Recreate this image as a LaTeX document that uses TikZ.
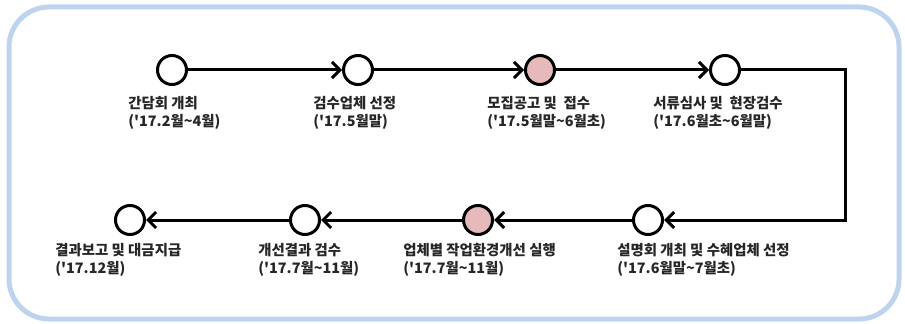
\documentclass[tikz,border=0pt]{standalone}
\usepackage{fontspec}
\setmainfont{Noto Sans CJK KR}
\usetikzlibrary{arrows.meta}
\definecolor{frame}{RGB}{190,212,238}
\definecolor{rose}{RGB}{230,186,186}

\begin{document}
\begin{tikzpicture}[x=0.2mm,y=-0.2mm,
  stage/.style={circle,draw,line width=0.6mm,minimum size=5.8mm,inner sep=0pt,fill=white},
  hot/.style={stage,fill=rose},
  flow/.style={line width=0.6mm,-{Straight Barb[length=1.6mm,width=3.2mm,line width=0.6mm]}},
  tag/.style={anchor=north west,inner sep=0pt,align=left,font=\bfseries\fontsize{8.2}{10.4}\selectfont,text=black!85}]
\useasboundingbox (0,0) rectangle (905,324);
\draw[frame,line width=1mm,rounded corners=8mm] (9,7) rectangle (899,319);
% upper row
\node[stage] (s1) at (172,70){};
\node[stage] (s2) at (358,70){};
\node[hot] (s3) at (540,70){};
\node[stage] (s4) at (725,70){};
% lower row
\node[stage] (s5) at (648,220){};
\node[hot] (s6) at (478,220){};
\node[stage] (s7) at (305,220){};
\node[stage] (s8) at (130,220){};
\coordinate (up) at (845,70);
\coordinate (down) at (845,220);
\draw[flow] (s1) -- (s2);
\draw[flow] (s2) -- (s3);
\draw[flow] (s3) -- (s4);
\draw[flow] (s4) -- (up) -- (down) -- (s5);
\draw[flow] (s5) -- (s6);
\draw[flow] (s6) -- (s7);
\draw[flow] (s7) -- (s8);
\node[tag] (t1) at (128,96){간담회 개최\\(\textquotesingle 17.2월\textasciitilde 4월)};
\node[tag] (t2) at (313,96){검수업체 선정\\(\textquotesingle 17.5월말)};
\node[tag] (t3) at (487,96){모집공고 및 \ 접수\\(\textquotesingle 17.5월말\textasciitilde 6월초)};
\node[tag] (t4) at (653,96){서류심사 및 \ 현장검수\\(\textquotesingle 17.6월초\textasciitilde 6월말)};
\node[tag] (t5) at (617,243){설명회 개최 및 수혜업체 선정\\(\textquotesingle 17.6월말\textasciitilde 7월초)};
\node[tag] (t6) at (403,243){업체별 작업환경개선 실행\\(\textquotesingle 17.7월\textasciitilde 11월)};
\node[tag] (t7) at (258,243){개선결과 검수\\(\textquotesingle 17.7월\textasciitilde 11월)};
\node[tag] (t8) at (55,243){결과보고 및 대금지급\\(\textquotesingle 17.12월)};
\end{tikzpicture}
\end{document}
